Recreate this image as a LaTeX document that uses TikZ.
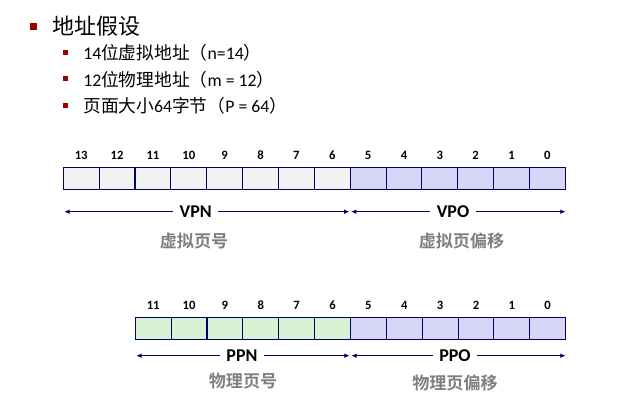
\documentclass[tikz,border=0pt]{standalone}
\usepackage{fontspec}
\setmainfont{Carlito}
\newfontfamily\cjk{Noto Sans CJK SC}
\newfontfamily\cjkb{Noto Sans CJK SC Bold}
\usetikzlibrary{arrows.meta}
\definecolor{navy}{HTML}{000066}
\definecolor{cellgray}{HTML}{F2F2F2}
\definecolor{cellblue}{HTML}{D6D6F4}
\definecolor{cellgreen}{HTML}{D8F1D3}
\definecolor{bulred}{HTML}{990000}
\definecolor{labgray}{HTML}{7F7F7F}
\begin{document}
\begin{tikzpicture}[x=0.75pt,y=-0.75pt,
  cellbox/.style={draw=navy,line width=0.8pt,minimum width=35.86*0.75pt,minimum height=22*0.75pt,inner sep=0pt,outer sep=0pt},
  bitnum/.style={font=\fontsize{9.5}{11}\selectfont\bfseries,inner sep=0pt},
  rangelab/.style={font=\fontsize{13.5}{15}\selectfont\bfseries,fill=white,inner xsep=5pt,inner ysep=1pt},
  cnlab/.style={font=\cjkb\fontsize{12.8}{14}\selectfont,text=labgray,inner sep=0pt},
  span/.style={draw=navy,line width=0.8pt,{Latex[length=4pt,width=3.5pt]}-{Latex[length=4pt,width=3.5pt]}},
  bigbul/.style={fill=bulred,minimum size=7*0.75pt,inner sep=0pt},
  smallbul/.style={fill=bulred,minimum size=5*0.75pt,inner sep=0pt},
  itemtxt/.style={anchor=west,font=\fontsize{13.3}{15}\selectfont,inner sep=0pt}
]
\useasboundingbox (0,0) rectangle (635,406);
% header bullets
\node[bigbul] (b0) at (33,27) {};
\node[anchor=west,font=\cjk\fontsize{16.5}{19}\selectfont,inner sep=0pt] (t0) at (52,26) {地址假设};
\node[smallbul] (b1) at (65.5,52.5) {};
\node[itemtxt] (t1) at (83,53) {14{\cjk 位虚拟地址（}n=14{\cjk ）}};
\node[smallbul] (b2) at (65.5,79) {};
\node[itemtxt] (t2) at (83,80) {12{\cjk 位物理地址（}m = 12{\cjk ）}};
\node[smallbul] (b3) at (65.5,105.5) {};
\node[itemtxt] (t3) at (83,106) {{\cjk 页面大小}64{\cjk 字节（}P = 64{\cjk ）}};
% virtual address row
\foreach \i in {0,...,13}{
  \pgfmathtruncatemacro{\bit}{13-\i}
  \ifnum\bit>5 \def\fillc{cellgray}\else\def\fillc{cellblue}\fi
  \node[cellbox,fill=\fillc,anchor=north west] (v\bit) at ({63.3+\i*35.86},167.3) {};
  \node[bitnum] (vn\bit) at ({63.3+(\i+0.5)*35.86},155) {\bit};
}
\coordinate (vl) at (63.3,211.7);
\coordinate (vm) at (v5.south west |- vl);
\coordinate (vr) at (565.6,211.7);
\draw[span] ([xshift=0.75pt]vl) -- ([xshift=-0.6pt]vm);
\draw[span] ([xshift=0.6pt]vm) -- (vr);
\node[rangelab] (vpn) at (195.7,211.7) {VPN};
\node[rangelab] (vpo) at (453,211.7) {VPO};
\node[cnlab] (vpnc) at (194,241.5) {虚拟页号};
\node[cnlab] (vpoc) at (461.5,241.5) {虚拟页偏移};
% physical address row
\foreach \i in {0,...,11}{
  \pgfmathtruncatemacro{\bit}{11-\i}
  \ifnum\bit>5 \def\fillc{cellgreen}\else\def\fillc{cellblue}\fi
  \node[cellbox,fill=\fillc,anchor=north west] (p\bit) at ({135.3+\i*35.86},317.3) {};
  \node[bitnum] (pn\bit) at ({135.3+(\i+0.5)*35.86},305) {\bit};
}
\coordinate (pl) at (135.3,355.7);
\coordinate (pm) at (p5.south west |- pl);
\coordinate (pr) at (565.6,355.7);
\draw[span] ([xshift=0.75pt]pl) -- ([xshift=-0.6pt]pm);
\draw[span] ([xshift=0.6pt]pm) -- (pr);
\node[rangelab] (ppn) at (242,355.7) {PPN};
\node[rangelab] (ppo) at (455,355.7) {PPO};
\node[cnlab] (ppnc) at (243,381) {物理页号};
\node[cnlab] (ppoc) at (455,383) {物理页偏移};
\end{tikzpicture}
\end{document}
